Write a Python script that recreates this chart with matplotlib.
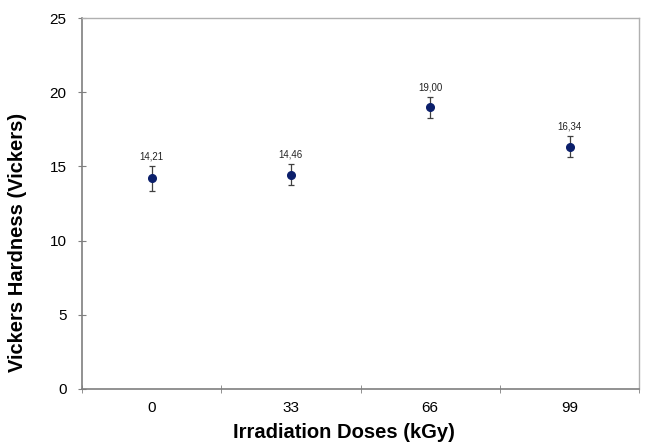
import numpy as np
import matplotlib.pyplot as plt

plt.rcParams['font.family'] = ['Liberation Sans', 'DejaVu Sans']

doses = ["0", "33", "66", "99"]
hardness = [14.21, 14.46, 19.00, 16.34]
errors = [0.85, 0.7, 0.7, 0.7]
labels = ["14,21", "14,46", "19,00", "16,34"]

fig = plt.figure(figsize=(6.45, 4.44), dpi=100)
ax = fig.add_axes([0.127, 0.124, 0.864, 0.835])

x = np.arange(len(doses))
ax.errorbar(x, hardness, yerr=errors, fmt="o", color="#0b1f6b", ms=5.5,
            ecolor="#404040", elinewidth=0.9, capsize=2.5, capthick=0.9, zorder=3)
for xi, yi, ei, lab in zip(x, hardness, errors, labels):
    ax.text(xi, yi + ei + 0.3, lab, ha="center", va="bottom", fontsize=7, color="#222222")

ax.set_xlim(-0.5, len(doses) - 0.5)
ax.set_ylim(0, 25)
ax.set_yticks(np.arange(0, 26, 5))
ax.set_xticks(x)
ax.set_xticklabels(doses)
ax.set_xticks(np.arange(-0.5, len(doses), 1), minor=True)
ax.tick_params(axis="x", which="major", length=0, pad=9, labelsize=11)
ax.tick_params(axis="x", which="minor", length=6, direction="inout", color="#7f7f7f")
ax.tick_params(axis="y", length=6, direction="inout", color="#7f7f7f", labelsize=11, pad=8)

for s in ["left", "bottom"]:
    ax.spines[s].set_color("#7f7f7f")
    ax.spines[s].set_linewidth(1.2)
for s in ["top", "right"]:
    ax.spines[s].set_color("#b0b0b0")
    ax.spines[s].set_linewidth(1.0)

# axis titles placed like the original (slightly off-centre)
fig.text(344 / 645, 1 - 432 / 444, "Irradiation Doses (kGy)", fontsize=14.5,
         fontweight="bold", ha="center", va="center")
fig.text(18 / 645, 1 - 242 / 444, "Vickers Hardness (Vickers)", fontsize=14.5,
         fontweight="bold", ha="center", va="center", rotation=90)

plt.savefig("out.png", dpi=100)
plt.close()
